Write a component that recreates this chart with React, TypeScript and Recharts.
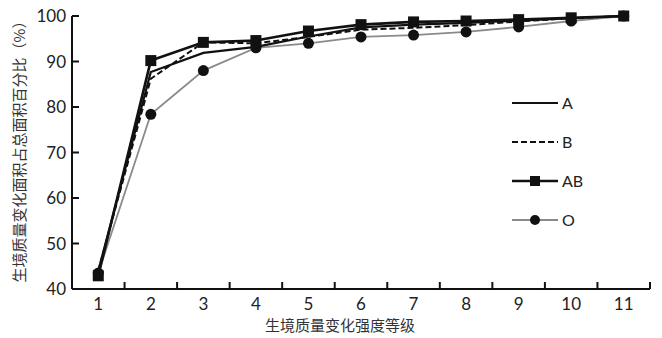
import React from 'react';
import { LineChart, Line, XAxis, YAxis, Label } from 'recharts';

const grades = [1, 2, 3, 4, 5, 6, 7, 8, 9, 10, 11];
const seriesA = [44, 87.7, 91.9, 93.2, 95.5, 97.5, 98.1, 98.5, 99.0, 99.5, 100];
const seriesB = [44, 86.2, 94.2, 94.0, 95.4, 97.0, 97.4, 98.0, 98.8, 99.5, 100];
const seriesAB = [42.9, 90.2, 94.2, 94.6, 96.7, 98.1, 98.7, 98.9, 99.2, 99.6, 100];
const seriesO = [43.5, 78.4, 88.0, 93.0, 94.0, 95.4, 95.8, 96.5, 97.6, 98.9, 100];
const yTicks = [40, 50, 60, 70, 80, 90, 100];
// labels on the grades, tick marks half way between them
const xTicks = [1, 1.5, 2, 2.5, 3, 3.5, 4, 4.5, 5, 5.5, 6, 6.5, 7, 7.5, 8, 8.5, 9, 9.5, 10, 10.5, 11, 11.5];
const xTitle = '生境质量变化强度等级';
const yTitle = '生境质量变化面积占总面积百分比（%）';

const data = grades.map((g, i) => ({
  grade: g,
  A: seriesA[i],
  B: seriesB[i],
  AB: seriesAB[i],
  O: seriesO[i],
}));

const font = "Lato, 'Open Sans', sans-serif";
const cjk = "'Noto Sans CJK SC', sans-serif";

const XTick = (props: any) => {
  const { x, y, payload } = props;
  const v = payload.value;
  const isLabel = Number.isInteger(v);
  return (
    <g>
      <line x1={x} x2={x} y1={y - 7} y2={y} stroke={isLabel ? 'none' : '#111'} strokeWidth={2} />
      <text x={x} y={y + 21} textAnchor="middle" fontSize={17} fontFamily={font} fill="#222">
        {isLabel ? String(v) : ''}
      </text>
    </g>
  );
};

const YTick = (props: any) => {
  const { x, y, payload } = props;
  return (
    <g>
      <line x1={x} x2={x + 7} y1={y} y2={y} stroke="#111" strokeWidth={2} />
      <text x={x - 6} y={y + 6} textAnchor="end" fontSize={17} fontFamily={font} fill="#222">
        {payload.value}
      </text>
    </g>
  );
};

const SquareDot = (props: any) => {
  const { cx, cy } = props;
  if (cx == null || cy == null) return <g />;
  return <rect x={cx - 5.5} y={cy - 5.5} width={11} height={11} fill="#111" />;
};

const CircleDot = (props: any) => {
  const { cx, cy } = props;
  if (cx == null || cy == null) return <g />;
  return <circle cx={cx} cy={cy} r={5.5} fill="#111" />;
};

const legendItems = [
  { name: 'A', stroke: '#111', width: 2, dash: undefined, marker: null },
  { name: 'B', stroke: '#111', width: 2, dash: '6 3', marker: null },
  { name: 'AB', stroke: '#111', width: 2.5, dash: undefined, marker: 'square' },
  { name: 'O', stroke: '#8a8a8a', width: 2, dash: undefined, marker: 'circle' },
];

const LegendBox = () => (
  <svg width={110} height={150} style={{ position: 'absolute', left: 510, top: 92 }}>
    {legendItems.map((it, i) => {
      const y = 11 + i * 39;
      return (
        <g key={it.name}>
          <line x1={2} x2={48} y1={y} y2={y} stroke={it.stroke} strokeWidth={it.width} strokeDasharray={it.dash} />
          {it.marker === 'square' && <rect x={20} y={y - 5} width={10} height={10} fill="#111" />}
          {it.marker === 'circle' && <circle cx={25} cy={y} r={5} fill="#111" />}
          <text x={52} y={y + 6} fontSize={16} fontFamily={font} fill="#222">
            {it.name}
          </text>
        </g>
      );
    })}
  </svg>
);

export default function App() {
  return (
    <div style={{ position: 'absolute', left: 0, top: 0, width: 662, height: 338 }}>
      <LineChart width={662} height={338} data={data} margin={{ top: 16, right: 12, left: 42, bottom: 0 }}>
        <XAxis
          dataKey="grade"
          type="number"
          domain={[0.5, 11.5]}
          ticks={xTicks}
          allowDataOverflow
          axisLine={{ stroke: '#111', strokeWidth: 2 }}
          tickLine={false}
          tickSize={0}
          tickMargin={0}
          tick={<XTick />}
          height={49}
          interval={0}
        >
          <Label
            content={() => (
              <text x={340} y={331} textAnchor="middle" fontSize={15} fontFamily={cjk} fill="#333">
                {xTitle}
              </text>
            )}
          />
        </XAxis>
        <YAxis
          domain={[40, 100]}
          ticks={yTicks}
          width={30}
          axisLine={{ stroke: '#111', strokeWidth: 2 }}
          tickLine={false}
          tickSize={0}
          tickMargin={0}
          tick={<YTick />}
        >
          <Label
            content={() => (
              <text
                x={18}
                y={148}
                transform="rotate(-90, 18, 148)"
                textAnchor="middle"
                dominantBaseline="central"
                fontSize={15}
                fontFamily={cjk}
                fill="#333"
              >
                {yTitle}
              </text>
            )}
          />
        </YAxis>
        <Line dataKey="O" stroke="#8a8a8a" strokeWidth={1.8} dot={<CircleDot />} isAnimationActive={false} />
        <Line dataKey="A" stroke="#111" strokeWidth={2.2} dot={false} isAnimationActive={false} />
        <Line dataKey="B" stroke="#111" strokeWidth={2} strokeDasharray="6 3" dot={false} isAnimationActive={false} />
        <Line dataKey="AB" stroke="#111" strokeWidth={2.6} dot={<SquareDot />} isAnimationActive={false} />
      </LineChart>
      <LegendBox />
    </div>
  );
}
